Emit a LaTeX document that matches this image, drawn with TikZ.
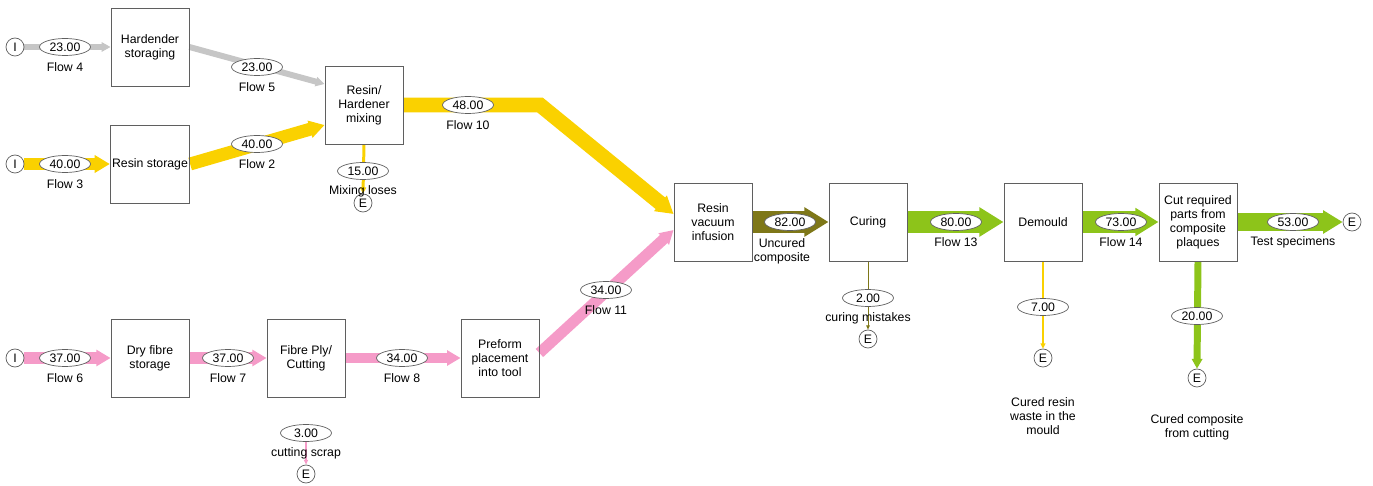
\documentclass[tikz,border=0pt]{standalone}
\usepackage{fontspec}
\setmainfont{Liberation Sans}
\usepackage{tikz}
\usetikzlibrary{shapes.geometric,arrows.meta,backgrounds,calc}
\usepackage{xcolor}

\definecolor{flowgrey}{RGB}{198,198,198}
\definecolor{resinyellow}{RGB}{250,209,0}
\definecolor{fibrepink}{RGB}{245,155,200}
\definecolor{curedgreen}{RGB}{141,196,26}
\definecolor{uncuredolive}{RGB}{126,119,24}
\definecolor{boxline}{RGB}{95,95,95}

\begin{document}
\begin{tikzpicture}[x=0.02cm, y=-0.02cm,
    every node/.style={font=\fontsize{7}{8}\selectfont},
    process/.style={draw=boxline, line width=0.5pt, minimum width=1.56cm, minimum height=1.56cm, align=center, inner sep=1pt},
    term/.style={draw=boxline, line width=0.4pt, circle, fill=white, minimum size=0.36cm, inner sep=0pt},
    val/.style={draw=boxline, line width=0.4pt, ellipse, fill=white, minimum width=1.02cm, minimum height=0.34cm, inner sep=0pt},
    tag/.style={align=center, inner sep=0pt},
    flow/.style={line width=#1*0.567pt, -{Triangle[length=2pt 0.9, width=1.5pt 1.1]}}]

    \useasboundingbox (0,0) rectangle (1373,486);

    \node[term] (i4) at (15,47) {I};
    \node[term] (i3) at (15,164) {I};
    \node[term] (i6) at (15,358) {I};

    \node[process] (hard) at (150,47) {Hardender\\storaging};
    \node[process] (res) at (150,164) {Resin storage};
    \node[process] (mix) at (364,105) {Resin/\\Hardener\\mixing};
    \node[process] (dry) at (150,358) {Dry fibre\\storage};
    \node[process] (ply) at (306,358) {Fibre Ply/\\Cutting};
    \node[process] (pre) at (500,358) {Preform\\placement\\into tool};
    \node[process] (rvi) at (713,222) {Resin\\vacuum\\infusion};
    \node[process] (cur) at (868,222) {Curing};
    \node[process] (dem) at (1043,222) {Demould};
    \node[process] (cut) at (1198,222) {Cut required\\parts from\\composite\\plaques};

    \node[term] (emix) at (363,203) {E};
    \node[term] (escrap) at (306,474) {E};
    \node[term] (ecur) at (868,339) {E};
    \node[term] (edem) at (1043,358) {E};
    \node[term] (ecut) at (1197,378) {E};
    \node[term] (etest) at (1352,222) {E};

    \node[val] (v4) at (65,47) {23.00};
    \node[tag] (f4) at (65,67) {Flow 4};
    \node[val] (v5) at (257,67) {23.00};
    \node[tag] (f5) at (257,87) {Flow 5};
    \node[val] (v3) at (65,164) {40.00};
    \node[tag] (f3) at (65,184) {Flow 3};
    \node[val] (v2) at (257,144) {40.00};
    \node[tag] (f2) at (257,164) {Flow 2};
    \node[val] (v10) at (468,105) {48.00};
    \node[tag] (f10) at (468,125) {Flow 10};
    \node[val] (vmix) at (363,171) {15.00};
    \node[tag] (fmix) at (363,191) {Mixing loses};
    \node[val] (v6) at (65,358) {37.00};
    \node[tag] (f6) at (65,378) {Flow 6};
    \node[val] (v7) at (228,358) {37.00};
    \node[tag] (f7) at (228,378) {Flow 7};
    \node[val] (v8) at (402,358) {34.00};
    \node[tag] (f8) at (402,378) {Flow 8};
    \node[val] (vscrap) at (306,433) {3.00};
    \node[tag] (fscrap) at (306,453) {cutting scrap};
    \node[val] (v11) at (606,290) {34.00};
    \node[tag] (f11) at (606,310) {Flow 11};
    \node[val] (vunc) at (790,222) {82.00};
    \node[tag] (func) at (782,251) {Uncured\\composite};
    \node[val] (vcm) at (868,298) {2.00};
    \node[tag] (fcm) at (868,318) {curing mistakes};
    \node[val] (v13) at (956,222) {80.00};
    \node[tag] (f13) at (956,242) {Flow 13};
    \node[val] (vdem) at (1043,307) {7.00};
    \node[tag] (fdem) at (1043,416) {Cured resin\\waste in the\\mould};
    \node[val] (v14) at (1121,222) {73.00};
    \node[tag] (f14) at (1121,242) {Flow 14};
    \node[val] (vtest) at (1293,222) {53.00};
    \node[tag] (ftest) at (1293,242) {Test specimens};
    \node[val] (vcut) at (1197,316) {20.00};
    \node[tag] (fcut) at (1197,427) {Cured composite\\from cutting};

    \begin{scope}[on background layer]
        \draw[flow=6, flowgrey] (i4) -- (hard);
        \draw[flow=6, flowgrey] (hard.east) -- ($(mix.west)+(0,-21)$);
        \draw[flow=13, resinyellow] (i3) -- (res);
        \draw[flow=13, resinyellow] (res.east) -- ($(mix.west)+(0,20)$);
        \draw[flow=15, resinyellow] (mix.east) -- (540,105) -- ($(rvi.west)+(0,-8)$);
        \draw[flow=3, resinyellow] (mix.south) -- (emix.north);
        \draw[flow=12, fibrepink] (i6) -- (dry);
        \draw[flow=12, fibrepink] (dry) -- (ply);
        \draw[flow=11, fibrepink] (ply) -- (pre);
        \draw[flow=1.5, fibrepink] (vscrap.south) -- (escrap.north);
        \draw[flow=11, fibrepink] ($(pre.east)+(0,-5)$) -- ($(rvi.west)+(0,8)$);
        \draw[flow=23, uncuredolive] (rvi) -- (cur);
        \draw[flow=0.8, uncuredolive] (cur.south) -- (ecur.north);
        \draw[flow=23, curedgreen] (cur) -- (dem);
        \draw[flow=2, resinyellow] (dem.south) -- (edem.north);
        \draw[flow=22, curedgreen] (dem) -- (cut);
        \draw[flow=18, curedgreen] (cut) -- (etest);
        \draw[flow=7, curedgreen] (cut.south) -- (ecut.north);
    \end{scope}
\end{tikzpicture}
\end{document}
